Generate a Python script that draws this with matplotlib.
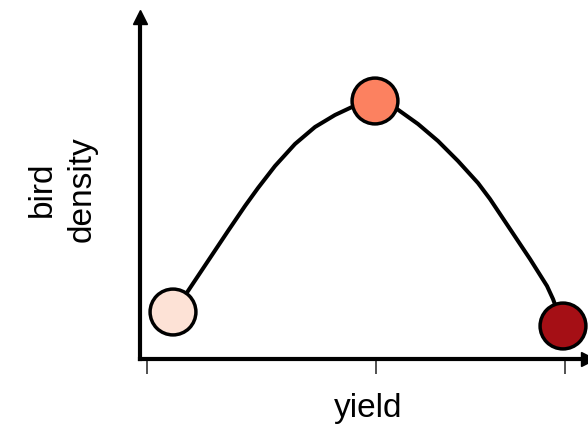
import numpy as np
import matplotlib.pyplot as plt

plt.rcParams['font.family'] = ['Liberation Sans', 'DejaVu Sans']

# curve (arbitrary units)
curve_yield = [33, 48, 68, 88, 105, 118, 135, 155, 175, 195, 212, 235,
               257, 278, 298, 318, 338, 350, 370, 390, 407, 413, 423]
curve_density = [47, 68, 98, 128, 153, 171, 193, 215, 232, 244, 252, 258,
                 250, 235, 218, 198, 176, 160, 130, 100, 73, 60, 33]

# the three highlighted points
point_yield = [33, 235, 423]
point_density = [47, 258, 33]
point_colors = ['#fde2d6', '#fc8160', '#a50f15']

tick_pos = [7, 236, 425]


def main():
    W, H = 588, 431
    fig = plt.figure(figsize=(W / 100, H / 100), dpi=100)
    left, right, bottom, top = 140, 588, 360, 18
    ax = fig.add_axes([left / W, (H - bottom) / H, (right - left) / W, (bottom - top) / H])
    ax.set_xlim(0, right - left)
    ax.set_ylim(0, bottom - top)

    ax.plot(curve_yield, curve_density, color='black', lw=2.9, solid_capstyle='round',
            solid_joinstyle='round', zorder=2)
    ax.scatter(point_yield, point_density, s=33 ** 2, c=point_colors,
               edgecolors='black', linewidths=2.5, zorder=3, clip_on=False)

    # axes with arrow heads
    for side in ['top', 'right']:
        ax.spines[side].set_visible(False)
    for side in ['left', 'bottom']:
        ax.spines[side].set_linewidth(3)
    ax.plot(1, 0, '>k', ms=10, transform=ax.transAxes, clip_on=False)
    ax.plot(0, 1, '^k', ms=10, transform=ax.transAxes, clip_on=False)

    ax.set_xticks(tick_pos)
    ax.set_xticklabels([])
    ax.set_yticks([])
    ax.tick_params(axis='x', direction='out', length=11, width=1.1, color='#222222')

    fig.text(368 / W, (H - 417) / H, 'yield', fontsize=24, ha='center', va='baseline')
    fig.text(62 / W, (H - 189) / H, 'bird\ndensity', fontsize=24, ha='center', va='center',
             rotation=90, linespacing=1.35, multialignment='center')

    fig.savefig('out.png', dpi=100)


if __name__ == "__main__":
    main()
